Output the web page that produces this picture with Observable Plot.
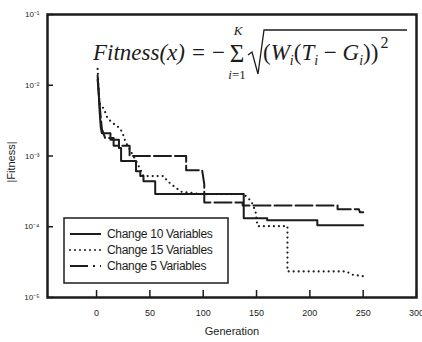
<!DOCTYPE html>
<html><head><meta charset="utf-8">
<script src="https://cdn.jsdelivr.net/npm/d3@7"></script>
<script src="https://cdn.jsdelivr.net/npm/@observablehq/plot@0.6"></script>
<style>body{margin:0;background:#fff} #chart{width:422px;height:342px}</style>
</head><body><div id="chart"></div>
<script>
const seriesNames = ["Change 10 Variables", "Change 15 Variables", "Change 5 Variables"];
const xTicks = [0, 50, 100, 150, 200, 250, 300];
const yTicks = [1e-5, 1e-4, 1e-3, 1e-2, 1e-1];
const yTickLabels = ["10⁻⁵", "10⁻⁴", "10⁻³", "10⁻²", "10⁻¹"];

// Change 10 Variables (solid)
const gen10 = [1, 2, 3, 4, 5, 13, 13, 21, 21, 23, 23, 37, 37, 41, 41, 44, 44, 55, 55, 138, 138, 160, 160, 207, 207, 250];
const fit10 = [0.0136, 0.008, 0.004, 0.0025, 0.0021, 0.0021, 0.0017, 0.0017, 0.0013, 0.0013, 0.00085, 0.00085, 0.00061, 0.00061, 0.00052, 0.00052, 0.00044, 0.00044, 0.00029, 0.00029, 0.000132, 0.000132, 0.000124, 0.000124, 0.000105, 0.000105];

// Change 15 Variables (dotted)
const gen15 = [1, 2, 3, 7, 10, 14, 20, 24, 27, 33, 37, 41, 44, 63, 66, 70, 75, 80, 90, 96, 138, 145, 149, 151, 179, 179, 234, 240, 250];
const fit15 = [0.017, 0.008, 0.0055, 0.0046, 0.0035, 0.003, 0.0026, 0.0022, 0.0016, 0.0011, 0.00085, 0.00065, 0.00052, 0.00052, 0.00045, 0.0004, 0.00035, 0.00031, 0.0003, 0.00029, 0.00029, 0.00023, 0.000166, 0.000102, 0.000102, 0.0000234, 0.0000234, 0.000021, 0.00002];

// Change 5 Variables (dash)
const gen5 = [1, 3, 5, 8, 16, 16, 31, 31, 84, 84, 99, 101, 101, 137, 137, 226, 226, 246, 247, 250];
const fit5 = [0.012, 0.005, 0.0024, 0.0018, 0.0018, 0.0014, 0.0014, 0.001, 0.001, 0.00063, 0.00063, 0.0004, 0.00022, 0.00022, 0.0002, 0.0002, 0.000177, 0.000177, 0.00016, 0.00016];

const toRows = (g, f) => g.map((x, i) => ({gen: x, fit: f[i]}));
const d10 = toRows(gen10, fit10), d15 = toRows(gen15, fit15), d5 = toRows(gen5, fit5);
const ink = "#1c1c1c";

const plot = Plot.plot({
  width: 422, height: 342,
  marginLeft: 47, marginRight: 6, marginTop: 14, marginBottom: 45,
  style: {fontFamily: "'Liberation Sans', Arial, sans-serif", fontSize: "9px", color: ink, background: "#fff", overflow: "visible"},
  x: {domain: [-46, 300]},
  y: {type: "log", domain: [1e-5, 1e-1]},
  marks: [
    Plot.axisX(xTicks, {tickSize: 0, tickPadding: 12, label: null, fontSize: 9}),
    Plot.ruleX(xTicks, {insetTop: 276, strokeWidth: 1.5, stroke: ink}),
    Plot.axisY(yTicks, {tickSize: 0, tickPadding: 8, label: null, fontSize: 8, tickFormat: d => yTickLabels[yTicks.indexOf(d)]}),
    Plot.ruleY(yTicks, {insetRight: 363, strokeWidth: 1.5, stroke: ink}),
    Plot.line(d10, {x: "gen", y: "fit", stroke: ink, strokeWidth: 2}),
    Plot.line(d15, {x: "gen", y: "fit", stroke: ink, strokeWidth: 2.2, strokeDasharray: "0,5", strokeLinecap: "round"}),
    Plot.line(d5, {x: "gen", y: "fit", stroke: ink, strokeWidth: 2, strokeDasharray: "17,4"}),
    Plot.frame({stroke: ink, strokeWidth: 2.5})
  ]
});
document.getElementById("chart").append(plot);

const svg = d3.select(plot);
const sans = "'Liberation Sans', Arial, sans-serif";
// axis titles
svg.append("text").attr("x", 232).attr("y", 335).attr("text-anchor", "middle")
  .attr("font-family", sans).attr("font-size", 11).attr("fill", ink).text("Generation");
svg.append("text").attr("transform", "translate(15,162) rotate(-90)").attr("text-anchor", "middle")
  .attr("font-family", sans).attr("font-size", 11).attr("fill", ink).text("|Fitness|");

// formula
const serif = "'Liberation Serif', 'Times New Roman', serif";
const f = svg.append("g").attr("fill", ink).attr("font-family", serif).attr("text-anchor", "start");
f.append("text").attr("x", 93).attr("y", 60).attr("font-size", 23).attr("font-style", "italic").text("Fitness(x)");
f.append("text").attr("x", 192).attr("y", 60).attr("font-size", 23).text("=");
f.append("text").attr("x", 212).attr("y", 60).attr("font-size", 23).text("−");
f.append("text").attr("x", 237).attr("y", 62).attr("font-size", 25).attr("text-anchor", "middle").text("Σ");
f.append("text").attr("x", 238).attr("y", 35).attr("font-size", 13).attr("font-style", "italic").attr("text-anchor", "middle").text("K");
const lim = f.append("text").attr("x", 237).attr("y", 79).attr("font-size", 13).attr("text-anchor", "middle");
lim.append("tspan").attr("font-style", "italic").text("i");
lim.append("tspan").text("=1");
f.append("path").attr("d", "M248,55 L252,52 L258,74 L264,30 L407,30").attr("fill", "none").attr("stroke", ink).attr("stroke-width", 1.3);
const body = f.append("text").attr("x", 263).attr("y", 60).attr("font-size", 23);
body.append("tspan").text("(");
body.append("tspan").attr("font-style", "italic").text("W");
body.append("tspan").attr("font-style", "italic").attr("font-size", 14).attr("dy", 5).text("i");
body.append("tspan").attr("dy", -5).text("(");
body.append("tspan").attr("font-style", "italic").text("T");
body.append("tspan").attr("font-style", "italic").attr("font-size", 14).attr("dy", 5).text("i");
body.append("tspan").attr("dy", -5).text(" − ");
body.append("tspan").attr("font-style", "italic").text("G");
body.append("tspan").attr("font-style", "italic").attr("font-size", 14).attr("dy", 5).text("i");
body.append("tspan").attr("dy", -5).text("))");
body.append("tspan").attr("font-size", 16).attr("dy", -12).attr("dx", 2).text("2");

// legend
const lg = svg.append("g").attr("text-anchor", "start");
lg.append("rect").attr("x", 64).attr("y", 218).attr("width", 164).attr("height", 65)
  .attr("fill", "#fff").attr("stroke", ink).attr("stroke-width", 1.5);
const dashes = [null, "0,5", "18,5,2,5"];
seriesNames.forEach((name, i) => {
  const y = 234 + i * 16;
  lg.append("line").attr("x1", 70).attr("x2", 101).attr("y1", y).attr("y2", y)
    .attr("stroke", ink).attr("stroke-width", 2).attr("stroke-linecap", i === 1 ? "round" : "butt")
    .attr("stroke-dasharray", dashes[i]);
  lg.append("text").attr("x", 107).attr("y", y + 4).attr("font-size", 12)
    .attr("font-family", sans).attr("letter-spacing", -0.3).attr("fill", ink).text(name);
});
</script>
</body></html>
